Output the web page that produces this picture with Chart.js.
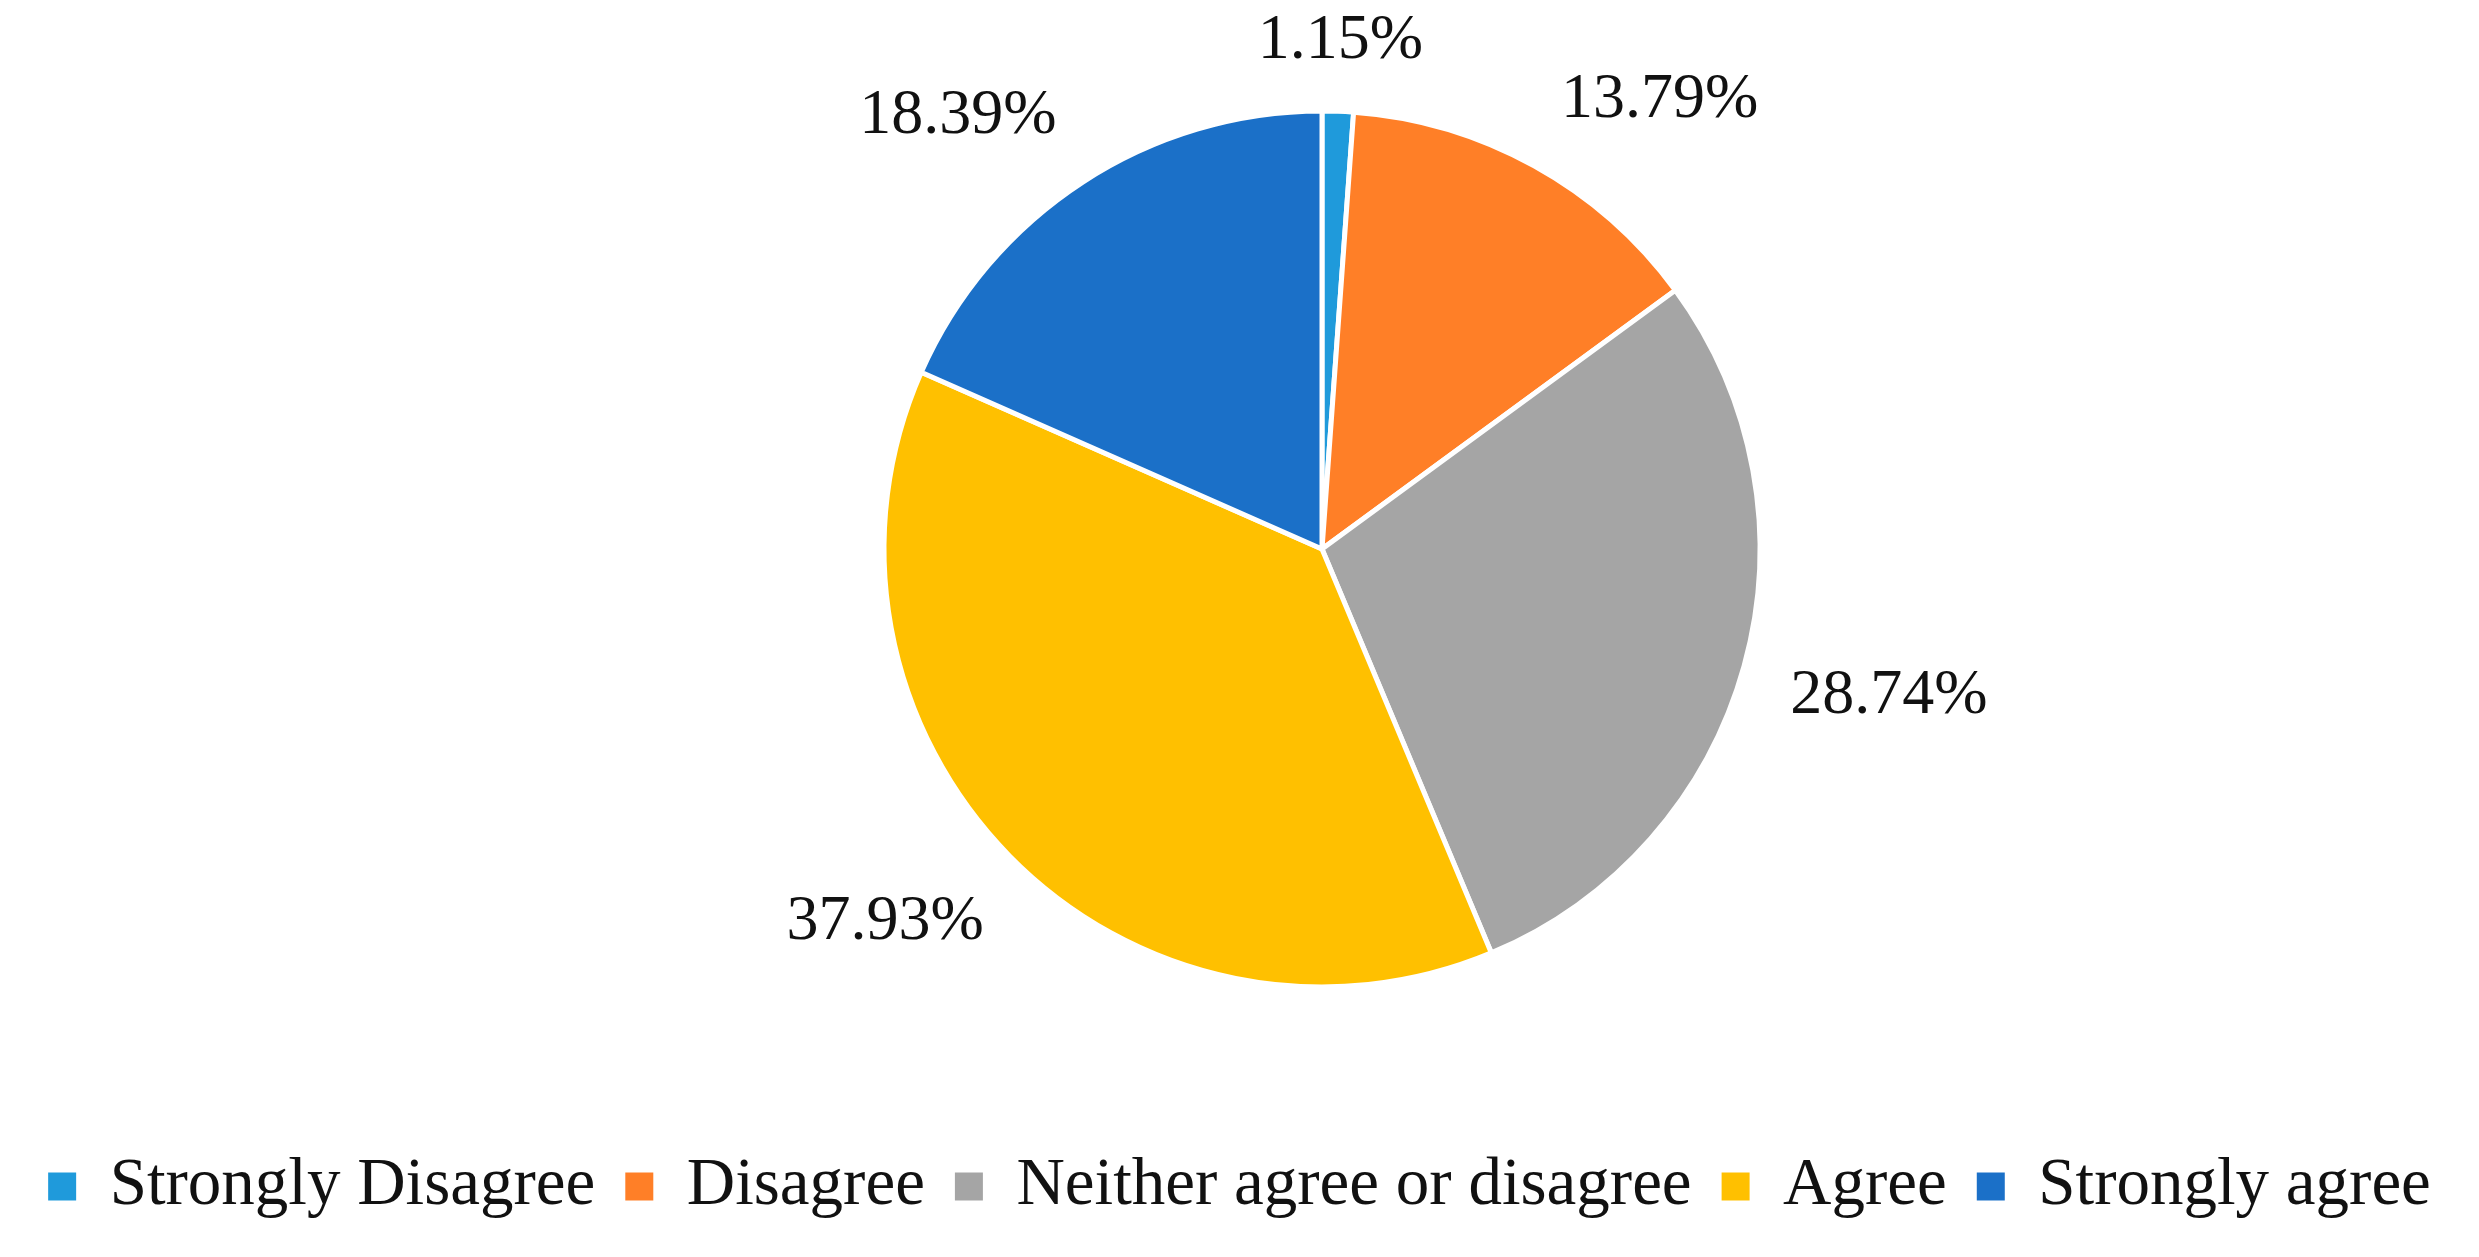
<!DOCTYPE html>
<html>
<head>
<meta charset="utf-8">
<script src="https://cdn.jsdelivr.net/npm/chart.js@4/dist/chart.umd.min.js"></script>
<style>
  html, body { margin: 0; padding: 0; background: #ffffff; }
  #wrap { width: 2479px; height: 1257px; }
</style>
</head>
<body>
<div id="wrap"><canvas id="c" width="2479" height="1257"></canvas></div>
<script>
// ---- Data ----
const categories = ['Strongly Disagree', 'Disagree', 'Neither agree or disagree', 'Agree', 'Strongly agree'];
const percentValues = [1.15, 13.79, 28.74, 37.93, 18.39];

// ---- Styles ----
const sliceColors = ['#1F9ADB', '#FF7F27', '#A5A5A5', '#FFC000', '#1B70C8'];
const labelAngleNudgeDeg = [0, 8, -1, 4, -7];
const LEGEND_DROP = 25;
const FONT_FAMILY = "'Liberation Serif', 'Times New Roman', serif";

const outsideLabels = {
  id: 'outsideLabels',
  afterDatasetsDraw(chart) {
    const ctx = chart.ctx;
    const meta = chart.getDatasetMeta(0);
    const ds = chart.data.datasets[0];
    ctx.save();
    ctx.font = '64px ' + FONT_FAMILY;
    ctx.fillStyle = '#111111';
    ctx.textAlign = 'center';
    ctx.textBaseline = 'middle';
    meta.data.forEach((arc, i) => {
      const p = arc.getProps(['x', 'y', 'startAngle', 'endAngle', 'outerRadius'], true);
      const mid = (p.startAngle + p.endAngle) / 2 + labelAngleNudgeDeg[i] * Math.PI / 180;
      const txt = ds.data[i].toFixed(2) + '%';
      const w = ctx.measureText(txt).width + 8;
      const h = 50;
      const c = Math.cos(mid), s = Math.sin(mid);
      const dist = p.outerRadius + 42 + Math.abs(c) * w / 2 + Math.abs(s) * h / 2;
      ctx.fillText(txt, p.x + c * dist, p.y + s * dist);
    });
    ctx.restore();
  }
};

// Let the legend use the full canvas width (pie is shifted right by layout padding)
const fullWidthLegend = {
  id: 'fullWidthLegend',
  beforeLayout(chart) {
    const lg = chart.legend;
    if (lg && !lg._fullPatched) {
      const origUpdate = lg.update;
      lg.update = function (maxWidth, maxHeight, margins) {
        return origUpdate.call(this, chart.width, maxHeight, margins);
      };
      lg._fullPatched = true;
    }
  },
  afterLayout(chart) {
    const lg = chart.legend;
    if (lg) {
      lg.left = 0;
      lg.right = chart.width;
      lg.width = chart.width;
      lg.top += LEGEND_DROP;
      lg.bottom += LEGEND_DROP;
    }
  }
};

const defaultGen = Chart.overrides.doughnut.plugins.legend.labels.generateLabels;

new Chart(document.getElementById('c'), {
  type: 'pie',
  data: {
    labels: categories,
    datasets: [{
      data: percentValues,
      backgroundColor: sliceColors,
      borderColor: '#ffffff',
      borderWidth: 5,
      radius: 438
    }]
  },
  options: {
    responsive: false,
    animation: false,
    devicePixelRatio: 1,
    layout: { padding: { left: 165, right: 0, top: 0, bottom: 52 } },
    plugins: {
      tooltip: { enabled: false },
      legend: {
        display: true,
        position: 'bottom',
        labels: {
          font: { family: FONT_FAMILY, size: 67 },
          color: '#111111',
          boxWidth: 28,
          boxHeight: 28,
          padding: 30,
          generateLabels(chart) {
            return defaultGen(chart).map(it => Object.assign(it, { lineWidth: 0, strokeStyle: 'rgba(0,0,0,0)' }));
          }
        }
      }
    }
  },
  plugins: [outsideLabels, fullWidthLegend]
});
</script>
</body>
</html>
